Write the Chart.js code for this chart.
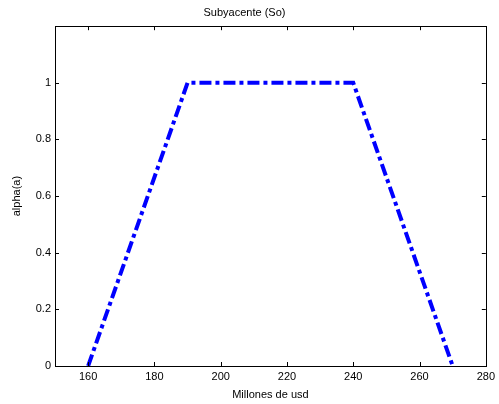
<!DOCTYPE html>
<html lang="es">
<head>
  <meta charset="UTF-8">
  <title>Subyacente (So)</title>
  <script src="https://cdn.jsdelivr.net/npm/chart.js"></script>
</head>
<style>
  html, body {
      margin: 0;
      padding: 0;
      background: #fff;
  }
  canvas {
      display: block;
  }
</style>

<body>
  <canvas id="grafico" width="499" height="404"></canvas>

<script>

  // datos del grafico
  const millones = [160, 190, 240, 270];
  const alpha = [0, 1, 1, 0];
  const ticksX = [160, 180, 200, 220, 240, 260, 280];
  const ticksY = [0, 0.2, 0.4, 0.6, 0.8, 1];

  const fuente = { family: "'Liberation Sans', Arial, sans-serif", size: 11 };

  // marco y marcas hacia adentro, estilo matlab
  const marcoMatlab = {
    id: 'marcoMatlab',
    afterDraw(chart) {
      const ctx = chart.ctx;
      const a = chart.chartArea;
      const sx = chart.scales.x;
      const sy = chart.scales.y;
      const largo = 4;
      ctx.save();
      ctx.strokeStyle = '#000';
      ctx.lineWidth = 1;
      ctx.beginPath();
      ticksX.forEach(function(v) {
        const px = Math.round(sx.getPixelForValue(v)) + 0.5;
        ctx.moveTo(px, a.bottom); ctx.lineTo(px, a.bottom - largo);
        ctx.moveTo(px, a.top); ctx.lineTo(px, a.top + largo);
      });
      ticksY.forEach(function(v) {
        const py = Math.round(sy.getPixelForValue(v)) + 0.5;
        ctx.moveTo(a.left, py); ctx.lineTo(a.left + largo, py);
        ctx.moveTo(a.right, py); ctx.lineTo(a.right - largo, py);
      });
      ctx.stroke();
      ctx.strokeRect(Math.round(a.left) + 0.5, Math.round(a.top) + 0.5,
                     Math.round(a.right - a.left), Math.round(a.bottom - a.top));
      ctx.restore();
    }
  };

  const ctx = document.getElementById('grafico').getContext('2d');

  new Chart(ctx, {
    type: 'line',
    data: {
      datasets: [{
        data: millones.map(function(x, i) { return { x: x, y: alpha[i] }; }),
        borderColor: '#0000ff',
        borderWidth: 4,
        borderDash: [12, 4, 4, 4],
        borderCapStyle: 'butt',
        pointRadius: 0,
        fill: false,
        tension: 0
      }]
    },
    options: {
      responsive: false,
      animation: false,
      events: [],
      layout: {
        padding: { left: 0, right: 10, top: 0, bottom: 0 }
      },
      plugins: {
        legend: { display: false },
        tooltip: { enabled: false },
        title: {
          display: true,
          text: 'Subyacente (So)',
          color: '#000',
          font: { family: fuente.family, size: 11, weight: 'normal' },
          padding: { top: 6, bottom: 7 }
        }
      },
      scales: {
        x: {
          type: 'linear',
          min: 150,
          max: 280,
          afterBuildTicks: function(s) { s.ticks = ticksX.map(function(v) { return { value: v }; }); },
          afterFit: function(s) { s.height = 38; },
          grid: { display: false, drawTicks: false },
          border: { display: false },
          ticks: { color: '#000', font: fuente, padding: 4, maxRotation: 0 },
          title: {
            display: true,
            text: 'Millones de usd',
            color: '#000',
            font: fuente,
            padding: { top: 0, bottom: 2 }
          }
        },
        y: {
          type: 'linear',
          min: 0,
          max: 1.2,
          afterBuildTicks: function(s) { s.ticks = ticksY.map(function(v) { return { value: v }; }); },
          afterFit: function(s) { s.width = 55; },
          grid: { display: false, drawTicks: false },
          border: { display: false },
          ticks: {
            color: '#000',
            font: fuente,
            padding: 4,
            callback: function(v) { return String(Math.round(v * 10) / 10); }
          },
          title: {
            display: true,
            text: 'alpha(a)',
            color: '#000',
            font: fuente,
            padding: { top: 10, bottom: 0 }
          }
        }
      }
    },
    plugins: [marcoMatlab]
  });

</script>
</body>
</html>
